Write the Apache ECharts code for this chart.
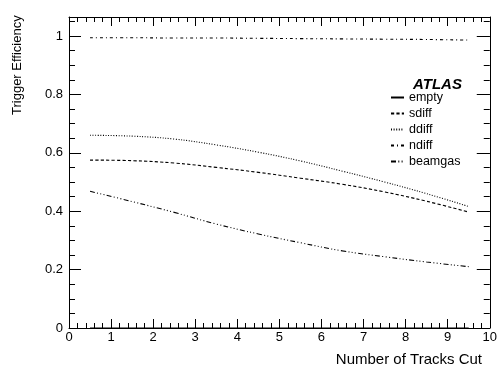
<!DOCTYPE html>
<html>
<head>
<meta charset="utf-8">
<script src="https://cdn.jsdelivr.net/npm/echarts@6/dist/echarts.min.js"></script>
<style>
html,body{margin:0;padding:0;background:#fff;}
#chart{width:500px;height:379px;}
</style>
</head>
<body>
<div id="chart"></div>
<script>
// Data
var tracksCut = [0.5, 1.5, 2.5, 3.5, 4.5, 5.5, 6.5, 7.5, 8.5, 9.5];
var seriesNames = ['empty', 'sdiff', 'ddiff', 'ndiff', 'beamgas'];
var emptyEff   = [0, 0, 0, 0, 0, 0, 0, 0, 0, 0];
var sdiffEff   = [0.575, 0.573, 0.565, 0.550, 0.533, 0.513, 0.492, 0.466, 0.434, 0.397];
var ddiffEff   = [0.660, 0.657, 0.647, 0.627, 0.602, 0.572, 0.537, 0.500, 0.460, 0.416];
var ndiffEff   = [0.994, 0.994, 0.993, 0.993, 0.992, 0.991, 0.990, 0.989, 0.988, 0.986];
var beamgasEff = [0.468, 0.433, 0.396, 0.356, 0.322, 0.292, 0.264, 0.244, 0.226, 0.210];
var xTicks = [0, 1, 2, 3, 4, 5, 6, 7, 8, 9, 10];
var yTicks = [0, 0.2, 0.4, 0.6, 0.8, 1];
var xTitle = 'Number of Tracks Cut';
var yTitle = 'Trigger Efficiency';
var experimentLabel = 'ATLAS';

var FONT = 'Liberation Sans';
var X_MIN = 0, X_MAX = 10, Y_MIN = 0, Y_MAX = 1.065;

function pairs(vals) {
  return tracksCut.map(function (x, i) { return [x, vals[i]]; });
}

function xAx(pos, interval, len, showLabel, showLine) {
  return {
    type: 'value', position: pos, min: X_MIN, max: X_MAX, interval: interval,
    axisLine: { show: showLine, onZero: false, lineStyle: { color: '#000', width: 1 } },
    axisTick: { show: true, inside: true, length: len, lineStyle: { color: '#000', width: 1 } },
    axisLabel: {
      show: showLabel, color: '#000', fontFamily: FONT, fontSize: 13, margin: 3,
      showMinLabel: true, showMaxLabel: true,
      formatter: function (v) { return xTicks.indexOf(v) >= 0 ? String(v) : ''; }
    },
    splitLine: { show: false }
  };
}
function yAx(pos, interval, len, showLabel, showLine) {
  return {
    type: 'value', position: pos, min: Y_MIN, max: Y_MAX, interval: interval,
    axisLine: { show: showLine, onZero: false, lineStyle: { color: '#000', width: 1 } },
    axisTick: { show: true, inside: true, length: len, lineStyle: { color: '#000', width: 1 } },
    axisLabel: {
      show: showLabel, color: '#000', fontFamily: FONT, fontSize: 13, margin: 6,
      showMaxLabel: false,
      formatter: function (v) {
        for (var i = 0; i < yTicks.length; i++) {
          if (Math.abs(yTicks[i] - v) < 1e-9) return String(yTicks[i]);
        }
        return '';
      }
    },
    splitLine: { show: false }
  };
}

var dashes = {
  empty:   'solid',
  sdiff:   [3.2, 2.2],
  ddiff:   [1, 1.6],
  ndiff:   [3, 3, 1, 3],
  beamgas: [5, 2.3, 1, 2.3, 1, 2.3, 1, 2.3]
};
var values = { empty: emptyEff, sdiff: sdiffEff, ddiff: ddiffEff, ndiff: ndiffEff, beamgas: beamgasEff };

var chart = echarts.init(document.getElementById('chart'), null, { renderer: 'canvas' });
chart.setOption({
  animation: false,
  backgroundColor: '#fff',
  grid: { left: 69, right: 8, top: 17, bottom: 51, containLabel: false },
  xAxis: [
    xAx('bottom', 1, 9, true, true),
    xAx('bottom', 0.2, 5, false, false),
    xAx('top', 1, 9, false, true),
    xAx('top', 0.2, 5, false, false)
  ],
  yAxis: [
    yAx('left', 0.2, 12, true, true),
    yAx('left', 0.05, 6, false, false),
    yAx('right', 0.2, 13, false, true),
    yAx('right', 0.05, 6, false, false)
  ],
  legend: {
    orient: 'vertical', left: 390, top: 91, padding: 0,
    itemWidth: 13, itemHeight: 14, itemGap: 3,
    itemStyle: { opacity: 0 },
    textStyle: { fontFamily: FONT, fontSize: 12.5, color: '#000' },
    data: seriesNames
  },
  graphic: [
    { type: 'text', left: 413, top: 77, style: { text: experimentLabel, font: 'italic bold 15px "Liberation Sans"', fill: '#000' } },
    { type: 'text', right: 18, top: 352, style: { text: xTitle, font: '15px "Liberation Sans"', fill: '#000' } },
    { type: 'text', x: 11, y: 115, rotation: Math.PI / 2, style: { text: yTitle, font: '13px "Liberation Sans"', fill: '#000', textAlign: 'left', textVerticalAlign: 'top' } }
  ],
  series: seriesNames.map(function (n) {
    return {
      name: n, type: 'line', xAxisIndex: 0, yAxisIndex: 0,
      data: pairs(values[n]), smooth: 0.4, symbol: 'none', showSymbol: false,
      lineStyle: { color: '#000', width: 1.1, type: dashes[n] },
      itemStyle: { color: '#000' }
    };
  })
});
</script>
</body>
</html>
